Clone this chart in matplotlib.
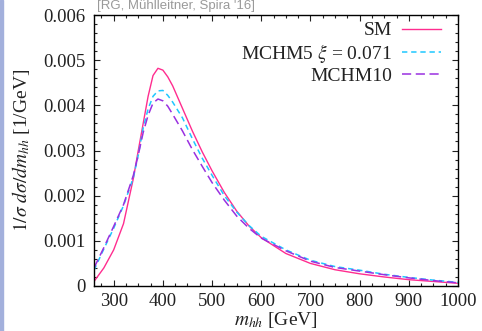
import matplotlib
matplotlib.use("Agg")
import matplotlib.pyplot as plt
from matplotlib.patches import Rectangle
from matplotlib.ticker import MultipleLocator

plt.rcParams['font.family'] = ['Liberation Serif', 'DejaVu Serif']
plt.rcParams['mathtext.fontset'] = 'stix'

# m_hh [GeV]
mhh = [260, 280, 300, 320, 340, 350, 360, 370, 380, 390, 400, 410, 420, 440,
       460, 480, 500, 525, 550, 575, 600, 650, 700, 750, 800, 850, 900, 950, 1000]

sm = [0.00010, 0.00040, 0.00080, 0.00138, 0.00238, 0.00300, 0.00360, 0.00420,
      0.00466, 0.00482, 0.00478, 0.00463, 0.00443, 0.00393, 0.00343, 0.00297,
      0.00255, 0.00207, 0.00166, 0.00133, 0.00107, 0.00072, 0.00050, 0.00036,
      0.00027, 0.00020, 0.00014, 0.00010, 0.00006]

mchm5 = [0.00035, 0.00082, 0.00128, 0.00178, 0.00240, 0.00290, 0.00350, 0.00392,
         0.00420, 0.00432, 0.00433, 0.00422, 0.00407, 0.00372, 0.00326, 0.00283,
         0.00245, 0.00200, 0.00164, 0.00134, 0.00110, 0.00080, 0.00057, 0.00043,
         0.00035, 0.00026, 0.00019, 0.00013, 0.00008]

mchm10 = [0.00040, 0.00085, 0.00132, 0.00180, 0.00245, 0.00290, 0.00340, 0.00378,
          0.00405, 0.00414, 0.00410, 0.00398, 0.00380, 0.00343, 0.00302, 0.00265,
          0.00229, 0.00190, 0.00155, 0.00128, 0.00106, 0.00078, 0.00055, 0.00041,
          0.00033, 0.00025, 0.00018, 0.00012, 0.00007]

labels = ['SM', r'MCHM5 $\xi$ = 0.071', 'MCHM10']
xticks = [300, 400, 500, 600, 700, 800, 900, 1000]
yticks = [0, 0.001, 0.002, 0.003, 0.004, 0.005, 0.006]
yticklabels = ['0', '0.001', '0.002', '0.003', '0.004', '0.005', '0.006']

fig = plt.figure(figsize=(4.82, 3.31), dpi=100)
ax = fig.add_axes([94 / 482, 1 - 286 / 331, 364 / 482, 271 / 331])

ax.plot(mhh, sm, color='#ff2d8f', lw=1.0, label=labels[0])
ax.plot(mhh, mchm5, color='#1ec8ff', lw=1.1, dashes=(3.5, 2.5), label=labels[1])
ax.plot(mhh, mchm10, color='#9a30e0', lw=1.1, dashes=(6, 3), label=labels[2])

ax.set_xlim(260, 1000)
ax.set_ylim(0, 0.006)
ax.set_xticks(xticks)
ax.set_yticks(yticks)
ax.set_yticklabels(yticklabels)
ax.xaxis.set_minor_locator(MultipleLocator(25))
ax.yaxis.set_minor_locator(MultipleLocator(0.0002))
ax.tick_params(which='both', direction='in', top=True, right=True,
               labelsize=13.5, colors='#222222')
ax.tick_params(which='major', length=4.5, width=0.8)
ax.tick_params(which='minor', length=2.5, width=0.8)
ax.tick_params(axis='y', pad=6)
ax.tick_params(axis='x', pad=5)
for s in ax.spines.values():
    s.set_linewidth(1.0)

ax.set_xlabel(r'$m_{hh}$ [GeV]', fontsize=14, labelpad=0, color='#222222')
ax.set_ylabel(r'$1/\sigma\ d\sigma/dm_{hh}$ [1/GeV]', fontsize=14,
              labelpad=8, color='#222222')

leg = ax.legend(loc='upper right', bbox_to_anchor=(0.953, 0.975), frameon=False,
                markerfirst=False, fontsize=14, handlelength=2.0,
                handletextpad=0.5, borderpad=0, borderaxespad=0,
                labelspacing=0.12)
for t in leg.get_texts():
    t.set_color('#222222')

fig.text(97 / 482, 1.0, "[RG, M\u00fchlleitner, Spira '16]",
         family='Liberation Sans', fontsize=9.5, color='#9a9a9a', va='top')

fig.patches.append(Rectangle((0, 0), 3 / 482, 1, transform=fig.transFigure,
                             color='#a3b0dc', zorder=0))

fig.savefig('out.png', dpi=100)
